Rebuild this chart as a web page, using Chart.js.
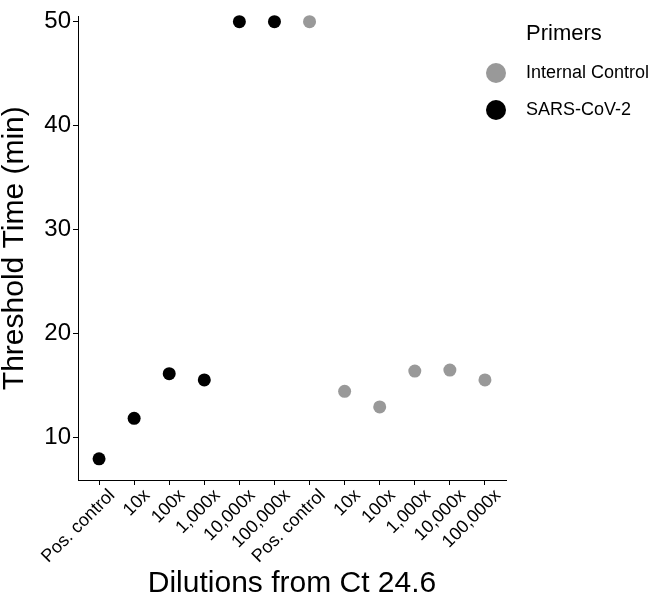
<!DOCTYPE html>
<html>
<head>
<meta charset="utf-8">
<script src="https://cdn.jsdelivr.net/npm/chart.js@4"></script>
<style>
  html, body { margin: 0; padding: 0; background: #fff; }
  #wrap { width: 655px; height: 597px; }
</style>
</head>
<body>
<div id="wrap"><canvas id="dots" width="655" height="597"></canvas></div>
<script>
// categories on the x axis (first six = SARS-CoV-2 primers, last six = internal control)
const dilutionLabels = ['Pos. control', '10x', '100x', '1,000x', '10,000x', '100,000x',
                        'Pos. control', '10x', '100x', '1,000x', '10,000x', '100,000x'];
const sarsValues = [7.9, 11.8, 16.1, 15.5, 50, 50];
const internalValues = [50, 14.4, 12.9, 16.35, 16.45, 15.5];
const yTicks = [10, 20, 30, 40, 50];
const seriesNames = ['Internal Control', 'SARS-CoV-2'];
const seriesColors = ['#999999', '#000000'];

const FONT = "'Liberation Sans', Arial, sans-serif";

// x index of each point
const sarsPoints = sarsValues.map((v, i) => ({ x: i, y: v }));
const internalPoints = internalValues.map((v, i) => ({ x: i + 6, y: v }));

// legend drawn by hand so it sits where the ggplot one does
const sideLegend = {
  id: 'sideLegend',
  afterDraw(chart) {
    const c = chart.ctx;
    c.save();
    c.fillStyle = '#000';
    c.font = '22px ' + FONT;
    c.textBaseline = 'alphabetic';
    c.textAlign = 'left';
    c.fillText('Primers', 526, 40);
    c.font = '18px ' + FONT;
    const rows = [73, 110];
    seriesNames.forEach((name, i) => {
      c.fillStyle = seriesColors[i];
      c.beginPath();
      c.arc(496, rows[i], 10, 0, Math.PI * 2);
      c.fill();
      c.fillStyle = '#000';
      c.textBaseline = 'middle';
      c.fillText(name, 526, rows[i]);
    });
    c.restore();
  }
};

const ctx = document.querySelector('#dots');
const myChart = new Chart(ctx, {
  type: 'scatter',
  data: {
    datasets: [
      {
        label: seriesNames[0],
        data: internalPoints,
        backgroundColor: seriesColors[0],
        pointRadius: 6.5,
        borderWidth: 0,
        clip: false
      },
      {
        label: seriesNames[1],
        data: sarsPoints,
        backgroundColor: seriesColors[1],
        pointRadius: 6.5,
        borderWidth: 0,
        clip: false
      }
    ]
  },
  options: {
    responsive: false,
    animation: false,
    layout: { padding: { top: 0, right: 149, left: 0, bottom: 0 } },
    plugins: {
      legend: { display: false },
      tooltip: { enabled: false }
    },
    scales: {
      x: {
        type: 'linear',
        min: -0.6,
        max: 11.6,
        afterBuildTicks: (axis) => { axis.ticks = dilutionLabels.map((l, i) => ({ value: i })); },
        afterFit: (axis) => { axis.height = 117; },
        ticks: {
          autoSkip: false,
          minRotation: 45,
          maxRotation: 45,
          padding: 0,
          labelOffset: 13,
          color: '#000',
          font: { family: FONT, size: 18 },
          callback: (v) => dilutionLabels[v]
        },
        grid: { drawOnChartArea: false, drawTicks: true, tickLength: 5, tickColor: '#000' },
        border: { display: true, color: '#000', width: 1 },
        title: {
          display: true,
          text: 'Dilutions from Ct 24.6',
          color: '#000',
          font: { family: FONT, size: 30, lineHeight: 1 },
          padding: { top: 0, bottom: -2 }
        }
      },
      y: {
        min: 5.865,
        max: 50.51,
        afterBuildTicks: (axis) => { axis.ticks = yTicks.map(v => ({ value: v })); },
        afterFit: (axis) => { axis.width = 78; },
        ticks: {
          padding: 2,
          color: '#000',
          font: { family: FONT, size: 24 }
        },
        grid: { drawOnChartArea: false, drawTicks: true, tickLength: 5, tickColor: '#000' },
        border: { display: true, color: '#000', width: 1 },
        title: {
          display: true,
          text: 'Threshold Time (min)',
          color: '#000',
          font: { family: FONT, size: 30, lineHeight: 1 },
          padding: { top: 0, bottom: 0 }
        }
      }
    }
  },
  plugins: [sideLegend]
});
</script>
</body>
</html>
